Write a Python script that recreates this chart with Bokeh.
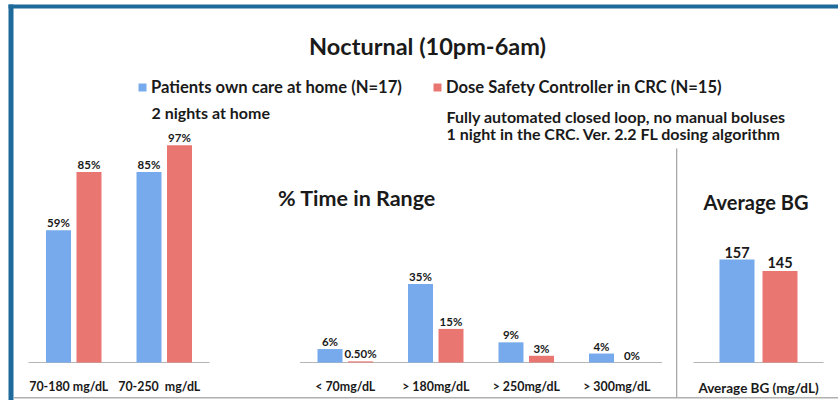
import numpy as np
from bokeh.plotting import figure
from bokeh.models import Range1d, Label, BoxAnnotation, Legend, LegendItem
from bokeh.core.properties import value
from bokeh.embed import file_html
from bokeh.resources import INLINE

# ---------------- data ----------------
title_text = "Nocturnal (10pm-6am)"
range_cats = ["70-180 mg/dL", "70-250\u00a0 mg/dL"]
excess_cats = ["< 70mg/dL", "> 180mg/dL", "> 250mg/dL", "> 300mg/dL"]
home_pct = [59, 85, 6, 35, 9, 4]
crc_pct = [85, 97, 0.5, 15, 3, 0]
home_pct_labels = ["59%", "85%", "6%", "35%", "9%", "4%"]
crc_pct_labels = ["85%", "97%", "0.50%", "15%", "3%", "0%"]
bg_cats = ["Average BG (mg/dL)"]
home_bg = [157]
crc_bg = [145]
series_names = ["Patients own care at home (N=17)",
                "Dose Safety Controller in CRC (N=15)"]
home_notes = ["2 nights at home"]
crc_notes = ["Fully automated closed loop, no manual boluses",
             "1 night in the CRC. Ver. 2.2 FL dosing algorithm"]
pct_panel_title = "% Time in Range"
bg_panel_title = "Average BG"

# ---------------- layout / style ----------------
W, H = 838, 400
OFF = 0
FONT = "Lato"
BLUE = "#76aaec"
RED = "#ea7672"
FRAME_BLUE = "#1e6b9b"
TXT = "#1a1a1a"


def fx(x):
    return x - OFF


def fy(y):
    return H - (y - OFF)


SLOT = 90.5
X0 = fx(28)
BASE = fy(362)
PCT_PX = 2.24
BW = 25 / SLOT
DOFF = 15.25 / SLOT

BSLOT = 130.0
BX0 = fx(693)
BG_MIN = 50
BG_PX = 103 / (157 - BG_MIN)
BBW = 35 / BSLOT
BDOFF = 21.5 / BSLOT

p = figure(width=W, height=H, output_backend="svg", toolbar_location=None,
           x_axis_type=None, y_axis_type=None, min_border=0,
           x_range=Range1d(-X0 / SLOT, (W - X0) / SLOT),
           y_range=Range1d(-BASE / PCT_PX, (H - BASE) / PCT_PX))
p.outline_line_color = None
p.background_fill_color = "white"
p.border_fill_color = "white"
p.extra_x_ranges = {"bgx": Range1d(-BX0 / BSLOT, (W - BX0) / BSLOT)}
p.extra_y_ranges = {"bgy": Range1d(BG_MIN - BASE / BG_PX, BG_MIN + (H - BASE) / BG_PX)}

cats = range_cats + excess_cats
xs = np.concatenate([np.arange(len(range_cats)) + 0.5,
                     np.arange(len(excess_cats)) + len(range_cats) + 1.5])

# baselines
p.segment(x0=[0], x1=[len(range_cats)], y0=[0], y1=[0], line_color="#b5b5b5", line_width=1.2)
p.segment(x0=[len(range_cats) + 1], x1=[len(cats) + 1], y0=[0], y1=[0], line_color="#b5b5b5", line_width=1.2)
p.segment(x0=[0], x1=[len(bg_cats)], y0=[BG_MIN], y1=[BG_MIN], line_color="#b5b5b5", line_width=1.2,
          x_range_name="bgx", y_range_name="bgy")

r_home = p.vbar(x=xs - DOFF, top=home_pct, bottom=0, width=BW, fill_color=BLUE, line_color=None)
r_crc = p.vbar(x=xs + DOFF, top=crc_pct, bottom=0, width=BW, fill_color=RED, line_color=None)

lab = dict(text_font=value(FONT), text_font_style="bold", text_color=TXT,
           text_align="center", text_baseline="alphabetic")
p.text(x=xs - DOFF, y=home_pct, text=home_pct_labels, y_offset=-7.5, text_font_size="11.5px", **lab)
p.text(x=xs + DOFF, y=crc_pct, text=crc_pct_labels, y_offset=-7.5, text_font_size="11.5px", **lab)
cat_xoff = [-5, -5, 0, 0, 0, 0]
p.text(x=xs, y=[0] * len(cats), text=cats, x_offset=cat_xoff, y_offset=24, text_font_size="12.4px", **lab)

# average BG panel
bxs = np.arange(len(bg_cats)) + 0.5
p.vbar(x=bxs - BDOFF, top=home_bg, bottom=BG_MIN, width=BBW, fill_color=BLUE, line_color=None,
       x_range_name="bgx", y_range_name="bgy")
p.vbar(x=bxs + BDOFF, top=crc_bg, bottom=BG_MIN, width=BBW, fill_color=RED, line_color=None,
       x_range_name="bgx", y_range_name="bgy")
p.text(x=bxs - BDOFF, y=home_bg, text=[str(v) for v in home_bg], y_offset=-7.5, text_font_size="14.5px",
       x_range_name="bgx", y_range_name="bgy", **lab)
p.text(x=bxs + BDOFF, y=crc_bg, text=[str(v) for v in crc_bg], y_offset=-9, text_font_size="14.5px",
       x_range_name="bgx", y_range_name="bgy", **lab)
p.text(x=bxs, y=[BG_MIN] * len(bg_cats), text=bg_cats, y_offset=25, text_font_size="13.5px",
       x_range_name="bgx", y_range_name="bgy", **lab)


# frame decorations
def box(l, r, t, b, color):
    p.add_layout(BoxAnnotation(left=fx(l), right=fx(r), top=fy(t), bottom=fy(b),
                               left_units="screen", right_units="screen",
                               bottom_units="screen", top_units="screen",
                               fill_color=color, fill_alpha=1, line_color=None, level="overlay"))


box(8, 13, 4, H + OFF, FRAME_BLUE)
box(8, W + OFF, 4, 8, FRAME_BLUE)
box(13, W + OFF, 396.5, 398, "#b0b0b0")
box(675.5, 676.8, 148, 397, "#a8a8a8")


def add_label(text, x, y, size, align="left", style="bold"):
    p.add_layout(Label(x=fx(x), y=fy(y), x_units="screen", y_units="screen", text=text,
                       text_font=FONT, text_font_size=size, text_font_style=style, text_color=TXT,
                       text_align=align, text_baseline="alphabetic"))


add_label(title_text, 427, 45.7, "23.5px", align="center")
add_label(home_notes[0], 151, 111.7, "16px")
add_label(crc_notes[0], 446, 116, "16px")
add_label(crc_notes[1], 446, 133.3, "16px")
add_label(pct_panel_title, 356.5, 197, "21.5px", align="center")
add_label(bg_panel_title, 755.5, 201, "20px", align="center")

leg_style = dict(glyph_width=10, glyph_height=10, label_standoff=4, padding=0, margin=0, spacing=0,
                 border_line_color=None, background_fill_alpha=0, label_text_font=FONT,
                 label_text_font_style="bold", label_text_font_size="16.6px", label_text_color=TXT)
leg1 = Legend(items=[LegendItem(label=series_names[0], renderers=[r_home])],
              location=(fx(137), fy(97)), **leg_style)
leg2 = Legend(items=[LegendItem(label=series_names[1], renderers=[r_crc])],
              location=(fx(432), fy(97)), **leg_style)
p.add_layout(leg1)
p.add_layout(leg2)

open("out.html", "w").write(file_html(p, INLINE))
